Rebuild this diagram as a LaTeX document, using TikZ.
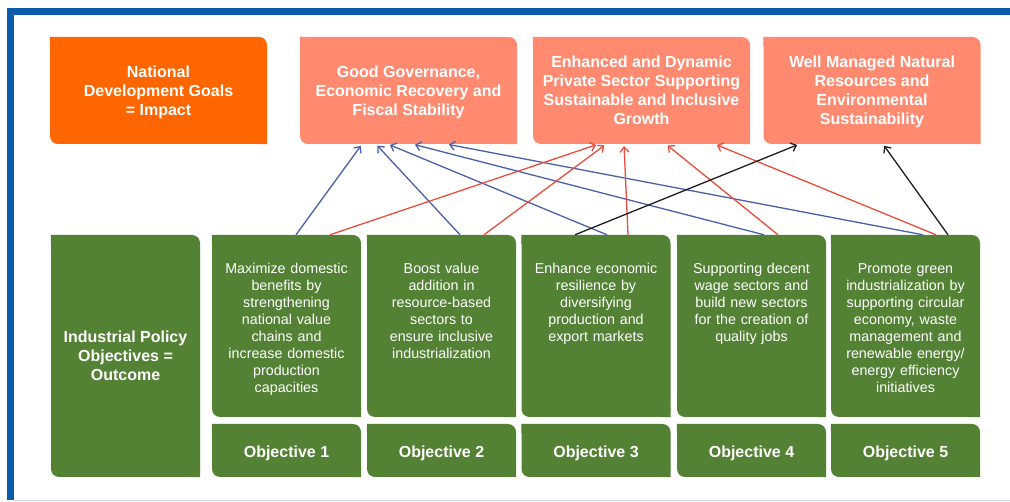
\documentclass[tikz,border=0pt]{standalone}
\usepackage{fontspec}
\setmainfont{Liberation Sans}
\usetikzlibrary{arrows.meta,positioning}
\definecolor{frameblue}{RGB}{10,91,169}
\definecolor{framegray}{RGB}{200,213,233}
\definecolor{goalorange}{RGB}{255,102,0}
\definecolor{salmon}{RGB}{255,138,112}
\definecolor{leafgreen}{RGB}{84,130,53}
\definecolor{linkblue}{RGB}{74,96,168}
\definecolor{linkred}{RGB}{234,76,60}
\definecolor{linkblack}{RGB}{30,30,30}
\newcommand{\ttlfont}{\fontsize{16}{19}\selectfont\bfseries}
\newcommand{\bodyfont}{\fontsize{14.3}{17}\selectfont}
\tikzset{
  card/.style={rectangle, rounded corners=8pt, fill=#1, inner sep=0pt, text=white,
    append after command={\pgfextra{\fill[#1,sharp corners]
      (\tikzlastnode.north west) rectangle ([xshift=9pt,yshift=-9pt]\tikzlastnode.north west)
      (\tikzlastnode.south east) rectangle ([xshift=-9pt,yshift=9pt]\tikzlastnode.south east);}}},
  topbox/.style={minimum width=217pt, minimum height=107pt, align=center, font=\ttlfont, text depth=0pt},
  objbox/.style={card=leafgreen, minimum width=149pt, minimum height=182pt},
  objlabel/.style={card=leafgreen, minimum width=149pt, minimum height=53pt, font=\ttlfont, text height=14pt, text depth=0pt},
  objtext/.style={anchor=north, inner sep=0pt, text width=149pt, align=center, text=white, font=\bodyfont},
  link/.style={line width=1.3pt, shorten >=2pt, -{Straight Barb[length=5pt,width=9pt]}},
}
\begin{document}
\begin{tikzpicture}[x=1pt,y=-1pt]
  \useasboundingbox (0,0) rectangle (1010,502);
  % frame
  \fill[frameblue] (7,8) rectangle (1010,15);
  \fill[frameblue] (7,8) rectangle (14,500);
  \draw[framegray, line width=1.5pt] (14,500.5) -- (1010,500.5);

  % goals
  \node[card=goalorange, topbox] (goal) at (158.5,90.5) {National\\Development Goals\\= Impact};
  \node[card=salmon, topbox] (gov) at (408.5,90.5) {Good Governance,\\Economic Recovery and\\Fiscal Stability};
  \node[card=salmon, topbox, text depth=-6pt] (priv) at (641.5,90.5) {Enhanced and Dynamic\\Private Sector Supporting\\Sustainable and Inclusive\\Growth};
  \node[card=salmon, topbox] (env) at (872,90.5) {Well Managed Natural\\Resources and\\Environmental\\Sustainability};

  % objectives
  \node[card=leafgreen, minimum width=149pt, minimum height=242pt, align=center, font=\ttlfont] (ipo) at (125.5,356) {Industrial Policy\\Objectives =\\Outcome};
  \node[objbox] (o1) at (286.5,326) {};
  \node[objbox] (o2) at (441.5,326) {};
  \node[objbox] (o3) at (596,326) {};
  \node[objbox] (o4) at (751.5,326) {};
  \node[objbox] (o5) at (905.5,326) {};
  \node[objlabel] (l1) at (286.5,450.5) {Objective 1};
  \node[objlabel] (l2) at (441.5,450.5) {Objective 2};
  \node[objlabel] (l3) at (596,450.5) {Objective 3};
  \node[objlabel] (l4) at (751.5,450.5) {Objective 4};
  \node[objlabel] (l5) at (905.5,450.5) {Objective 5};
  \node[objtext] (t1) at ([yshift=-28.5pt]o1.north) {Maximize domestic\\benefits by\\strengthening\\national value\\chains and\\increase domestic\\production\\capacities};
  \node[objtext] (t2) at ([yshift=-28.5pt]o2.north) {Boost value\\addition in\\resource-based\\sectors to\\ensure inclusive\\industrialization};
  \node[objtext] (t3) at ([yshift=-28.5pt]o3.north) {Enhance economic\\resilience by\\diversifying\\production and\\export markets};
  \node[objtext] (t4) at ([yshift=-28.5pt]o4.north) {Supporting decent\\wage sectors and\\build new sectors\\for the creation of\\quality jobs};
  \node[objtext] (t5) at ([yshift=-28.5pt]o5.north) {Promote green\\industrialization by\\supporting circular\\economy, waste\\management and\\renewable energy/\\energy efficiency\\initiatives};

  % links to goals
  \draw[link, linkblue] ([xshift=9.5pt]o1.north) -- ([xshift=-46.5pt]gov.south);
  \draw[link, linkblue] ([xshift=18.5pt]o2.north) -- ([xshift=-32.5pt]gov.south);
  \draw[link, linkblue] ([xshift=11pt]o3.north) -- ([xshift=-20.5pt]gov.south);
  \draw[link, linkblue] ([xshift=12.5pt]o4.north) -- ([xshift=4.5pt]gov.south);
  \draw[link, linkblue] ([xshift=17.5pt]o5.north) -- ([xshift=38.5pt]gov.south);
  \draw[link, linkred] ([xshift=43.5pt]o1.north) -- ([xshift=-43.5pt]priv.south);
  \draw[link, linkred] ([xshift=42.5pt]o2.north) -- ([xshift=-35.5pt]priv.south);
  \draw[link, linkred] ([xshift=32pt]o3.north) -- ([xshift=-17.5pt]priv.south);
  \draw[link, linkred] ([xshift=26.5pt]o4.north) -- ([xshift=24.5pt]priv.south);
  \draw[link, linkred] ([xshift=30.5pt]o5.north) -- ([xshift=73.5pt]priv.south);
  \draw[link, linkblack] ([xshift=-21pt]o3.north) -- ([xshift=-73pt]env.south);
  \draw[link, linkblack] ([xshift=42.5pt]o5.north) -- ([xshift=11pt]env.south);
\end{tikzpicture}
\end{document}
